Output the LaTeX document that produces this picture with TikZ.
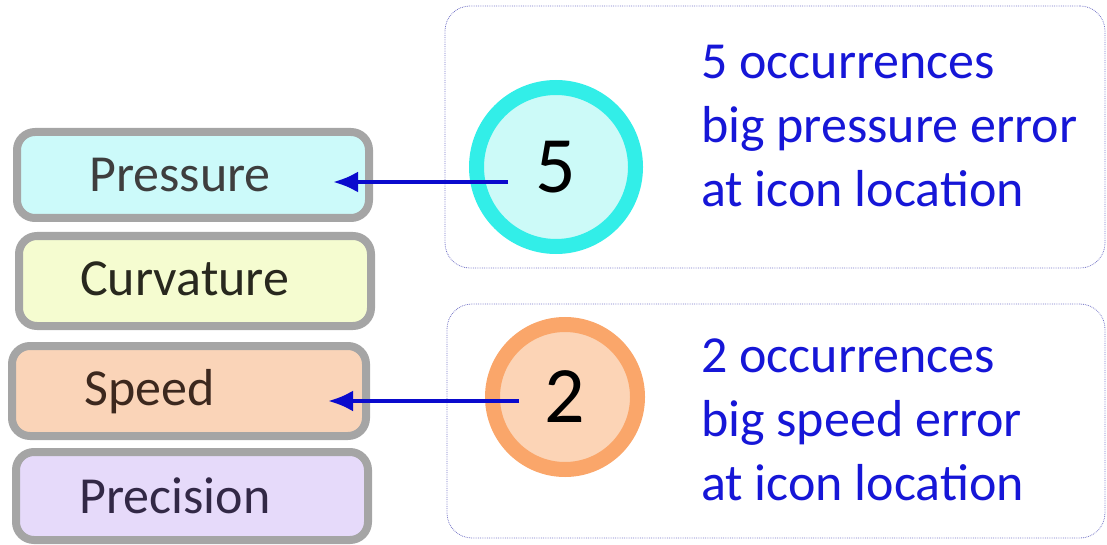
\documentclass[tikz,border=0pt]{standalone}
\usepackage{fontspec}
\setmainfont{Carlito}
\usetikzlibrary{arrows.meta}

\definecolor{tagborder}{RGB}{165,165,165}
\definecolor{pressfill}{RGB}{204,250,250}
\definecolor{curvfill}{RGB}{245,252,208}
\definecolor{speedfill}{RGB}{250,212,184}
\definecolor{precfill}{RGB}{230,218,250}
\definecolor{cyanring}{RGB}{50,238,232}
\definecolor{cyancore}{RGB}{204,250,248}
\definecolor{orangering}{RGB}{250,166,106}
\definecolor{orangecore}{RGB}{252,212,182}
\definecolor{noteblue}{RGB}{22,22,215}
\definecolor{pointerblue}{RGB}{10,10,205}
\definecolor{framecol}{RGB}{120,120,200}

\tikzset{
  tagbox/.style={draw=tagborder, line width=8pt, rounded corners=18pt,
    minimum width=352pt, inner sep=0pt},
  tagtext/.style={font=\fontsize{52}{60}\selectfont, anchor=base west, inner sep=0pt},
  countring/.style={circle, line width=15pt, inner sep=0pt,
    font=\fontsize{80}{90}\selectfont},
  noteframe/.style={draw=framecol, line width=0.8pt, densely dotted,
    rounded corners=25pt, inner sep=0pt},
  notetext/.style={font=\fontsize{52}{64}\selectfont, text=noteblue, align=left,
    anchor=base west, inner sep=0pt},
  pointer/.style={draw=pointerblue, line width=4pt, -{Latex[length=25pt,width=21pt]}}
}

\begin{document}
\begin{tikzpicture}[x=1pt, y=-1pt]
  \useasboundingbox (0,0) rectangle (1107,545);

  % Category boxes
  \node[tagbox, fill=pressfill, minimum height=86pt] (pressbox) at (193,175) {};
  \node[tagbox, fill=curvfill, minimum height=90pt] (curvbox) at (195,281) {};
  \node[tagbox, fill=speedfill, minimum height=90pt, minimum width=354pt] (speedbox) at (189,391) {};
  \node[tagbox, fill=precfill, minimum height=88pt] (precbox) at (192,496) {};
  \node[tagtext, text={rgb,255:red,62;green,62;blue,62}] (presslbl) at (89,192) {Pressure};
  \node[tagtext, text={rgb,255:red,40;green,40;blue,30}] (curvlbl) at (80,295) {Curvature};
  \node[tagtext, text={rgb,255:red,60;green,40;blue,30}] (speedlbl) at (84,405) {Speed};
  \node[tagtext, text={rgb,255:red,50;green,40;blue,70}] (preclbl) at (79,513) {Precision};

  % Note frames
  \node[noteframe, minimum width=660pt, minimum height=262pt] (topframe) at (775,137) {};
  \node[noteframe, minimum width=658pt, minimum height=234pt] (botframe) at (776,421) {};

  % Count icons
  \node[countring, draw=cyanring, fill=cyancore, minimum size=159pt] (fivecirc) at (556,167) {5};
  \node[countring, draw=orangering, fill=orangecore, minimum size=145pt] (twocirc) at (565,397) {2};

  % Notes (base = last line)
  \node[notetext] (fivenote) at (701,207) {5 occurrences\\big pressure error\\at icon location};
  \node[notetext] (twonote) at (701,500) {2 occurrences\\big speed error\\at icon location};

  % Pointers
  \coordinate (fivestart) at (508,182);
  \coordinate (presstip) at (333,182);
  \coordinate (twostart) at (519,401);
  \coordinate (speedtip) at (328,401);
  \draw[pointer] (fivestart) -- (presstip);
  \draw[pointer] (twostart) -- (speedtip);
\end{tikzpicture}
\end{document}
